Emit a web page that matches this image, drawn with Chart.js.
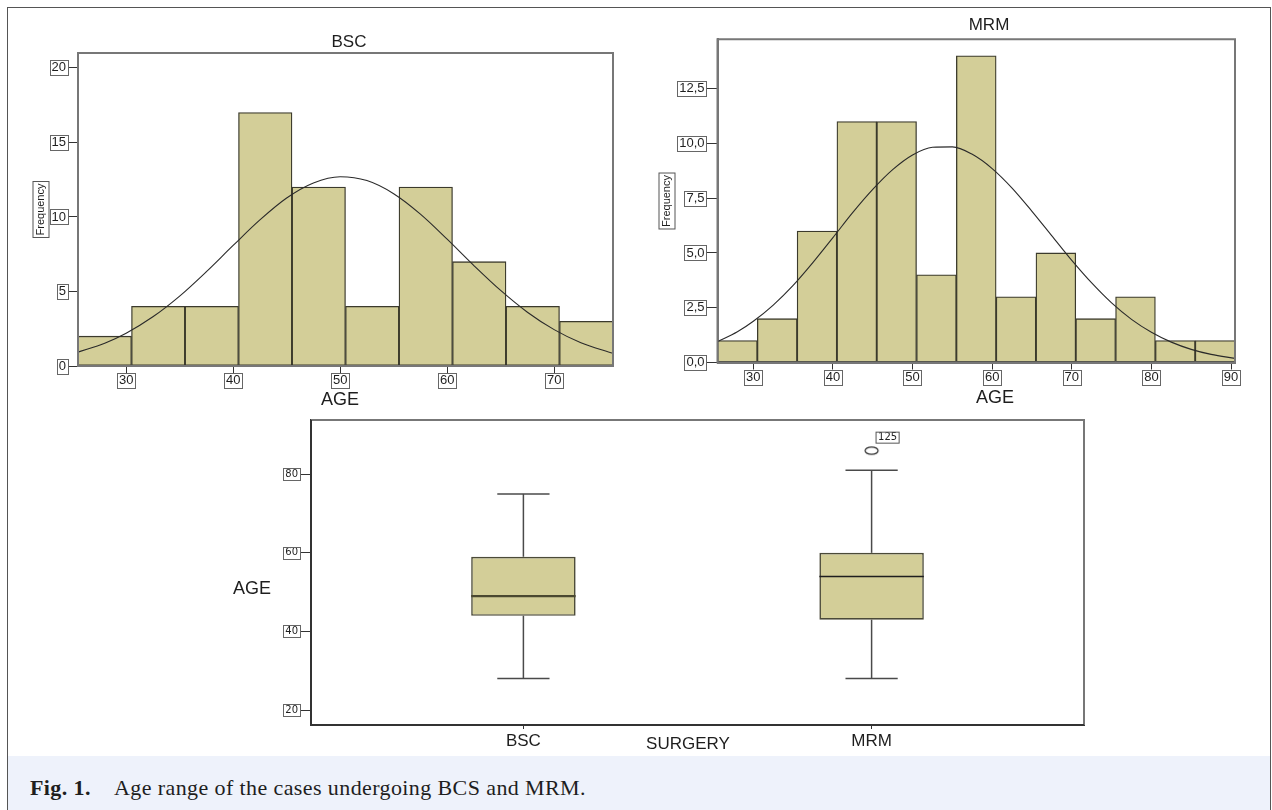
<!DOCTYPE html>
<html><head><meta charset="utf-8">
<script src="https://cdn.jsdelivr.net/npm/chart.js@4/dist/chart.umd.min.js"></script>
<style>
html,body{margin:0;padding:0;background:#fff;width:1272px;height:810px;overflow:hidden;position:relative}
#caption{position:absolute;left:8px;top:756px;width:1262px;height:60px;background:#eef2fb}
#frame{position:absolute;left:7px;top:7px;width:1264px;height:840px;border:1.5px solid #555;box-sizing:border-box}
.cap{position:absolute;top:777px;font-family:'Liberation Serif','DejaVu Serif',serif;font-size:22px;line-height:22px;color:#1e1e1e;white-space:nowrap;letter-spacing:0.4px}
.holder{position:absolute}
</style></head><body>
<div id="caption"></div>
<div id="frame"></div>
<div class="cap" style="left:30px;font-weight:bold">Fig. 1.</div>
<div class="cap" style="left:114px">Age range of the cases undergoing BCS and MRM.</div>
<div class="holder" style="left:0;top:0;width:640px;height:420px"><canvas id="c1"></canvas></div>
<div class="holder" style="left:640px;top:0;width:632px;height:420px"><canvas id="c2"></canvas></div>
<div class="holder" style="left:220px;top:405px;width:900px;height:350px"><canvas id="c3"></canvas></div>
<script>
// ---------- data ----------
const bscBinCenters = [28, 33, 38, 43, 48, 53, 58, 63, 68, 73];
const bscCounts     = [2, 4, 4, 17, 12, 4, 12, 7, 4, 3];
const bscCurveAge   = [25.5, 28, 30, 32.5, 35, 37.5, 40, 42.5, 45, 47.5, 50, 52.5, 55, 57.5, 60, 62.5, 65, 67.5, 70, 72.5, 75.5];
const bscCurveFreq  = [0.93, 1.53, 2.2, 3.3, 4.69, 6.33, 8.09, 9.8, 11.27, 12.28, 12.7, 12.44, 11.56, 10.19, 8.51, 6.74, 5.07, 3.61, 2.44, 1.56, 0.85];
const bscFreqTicks  = [0, 5, 10, 15, 20];
const bscFreqLabels = ['0', '5', '10', '15', '20'];
const bscAgeTicks   = [30, 40, 50, 60, 70];

const mrmBinCenters = [28, 33, 38, 43, 48, 53, 58, 63, 68, 73, 78, 83, 88];
const mrmCounts     = [1, 2, 6, 11, 11, 4, 14, 3, 5, 2, 3, 1, 1];
const mrmCurveAge   = [25.5, 28, 30, 32.5, 35, 37.5, 40, 42.5, 45, 47.5, 50, 52.5, 55, 57.5, 60, 62.5, 65, 67.5, 70, 72.5, 75, 77.5, 80, 82.5, 85, 87.5, 90.5];
const mrmCurveFreq  = [0.95, 1.4, 1.88, 2.62, 3.52, 4.57, 5.7, 6.85, 7.9, 8.8, 9.47, 9.82, 9.84, 9.5, 8.85, 7.96, 6.9, 5.78, 4.66, 3.63, 2.72, 1.97, 1.38, 0.93, 0.6, 0.37, 0.19];
const mrmFreqTicks  = [0, 2.5, 5, 7.5, 10, 12.5];
const mrmFreqLabels = ['0,0', '2,5', '5,0', '7,5', '10,0', '12,5'];
const mrmAgeTicks   = [30, 40, 50, 60, 70, 80, 90];

const surgeryGroups = ['BSC', 'MRM'];
const whiskerLow    = [28, 28];
const quartile1     = [44, 43];
const medianAge     = [49, 54];
const quartile3     = [59, 60];
const whiskerHigh   = [75, 81];
const outlierGroup  = ['MRM'];
const outlierAge    = [86];
const outlierCase   = ['125'];
const boxAgeTicks   = [20, 40, 60, 80];

// ---------- styling ----------
const BAR_FILL = '#d3ce98';
const BAR_EDGE = '#3b3a2c';
const SANS = "'Liberation Sans', Arial, sans-serif";

// ---------- plugins ----------
const boxedTicks = {
  id: 'boxedTicks',
  afterDraw(chart, args, opts) {
    const ctx = chart.ctx;
    (opts.axes || []).forEach(id => {
      const s = chart.scales[id];
      const o = s.options;
      const font = Chart.helpers.toFont(o.ticks.font);
      const tl = o.grid.tickLength, pad = o.ticks.padding;
      ctx.save();
      ctx.font = font.string;
      ctx.strokeStyle = opts.color || '#666';
      ctx.lineWidth = 1;
      s.ticks.forEach((t, i) => {
        const lbl = String(t.label);
        const w = ctx.measureText(lbl).width;
        const h = font.size + 2;
        let x, y;
        if (s.isHorizontal()) {
          const cy = s.top + tl + pad + font.lineHeight / 2;
          x = s.getPixelForTick(i) - w / 2 - 2; y = cy - h / 2;
        } else {
          x = s.right - tl - pad - w - 2; y = s.getPixelForTick(i) - h / 2;
        }
        ctx.strokeRect(Math.round(x) + 0.5, Math.round(y) + 0.5, Math.round(w + 4), Math.round(h));
      });
      ctx.restore();
    });
  }
};

const framePlugin = {
  id: 'frame',
  afterDraw(chart, args, opts) {
    const ctx = chart.ctx, ca = chart.chartArea;
    ctx.save();
    ctx.lineWidth = opts.width || 2;
    ctx.strokeStyle = opts.color || '#777';
    ctx.beginPath();
    ctx.moveTo(ca.left, ca.top); ctx.lineTo(ca.right, ca.top); ctx.lineTo(ca.right, ca.bottom);
    if (opts.full) { ctx.lineTo(ca.left, ca.bottom); ctx.closePath(); }
    ctx.stroke();
    if (!opts.full) {
      ctx.strokeStyle = opts.axisColor || '#333';
      ctx.beginPath();
      ctx.moveTo(ca.left, ca.top); ctx.lineTo(ca.left, ca.bottom); ctx.lineTo(ca.right, ca.bottom);
      ctx.stroke();
    }
    ctx.restore();
  }
};

const textPlugin = {
  id: 'chartTexts',
  afterDraw(chart, args, opts) {
    const ctx = chart.ctx, ca = chart.chartArea;
    (opts.items || []).forEach(it => {
      let x = ca.left + it.dx, y = ca.top + it.dy;
      if (it.anchor) {
        const el = chart.getDatasetMeta(it.anchor.dataset).data[it.anchor.index];
        x = el.x + it.dx; y = el.y + it.dy;
      }
      ctx.save();
      ctx.font = it.font; ctx.fillStyle = '#1e1e1e';
      ctx.textAlign = 'center'; ctx.textBaseline = 'middle';
      ctx.translate(x, y);
      if (it.rotate) ctx.rotate(it.rotate);
      ctx.fillText(it.text, 0, 0);
      if (it.boxH) {
        const w = ctx.measureText(it.text).width;
        ctx.strokeStyle = '#555'; ctx.lineWidth = 1;
        ctx.strokeRect(-w / 2 - 2, -it.boxH / 2, w + 4, it.boxH);
      }
      ctx.restore();
    });
  }
};

Chart.register(boxedTicks, framePlugin, textPlugin);

function setTicks(values) { return s => { s.ticks = values.map(v => ({ value: v })); }; }

function histogram(id, c) {
  return new Chart(document.getElementById(id), {
    type: 'bar',
    data: {
      datasets: [
        { type: 'line', data: c.curveX.map((x, i) => ({ x, y: c.curveY[i] })), borderColor: '#2a2a2a', borderWidth: 1.1,
          pointRadius: 0, cubicInterpolationMode: 'monotone', fill: false, order: 0 },
        { type: 'bar', data: c.centers.map((x, i) => ({ x, y: c.counts[i] })), backgroundColor: BAR_FILL, borderColor: BAR_EDGE,
          borderWidth: 1.3, borderSkipped: false, barPercentage: 1, categoryPercentage: 1, order: 1 }
      ]
    },
    options: {
      responsive: true, maintainAspectRatio: false, animation: false, events: [],
      layout: { padding: c.padding },
      plugins: {
        legend: { display: false }, tooltip: { enabled: false },
        boxedTicks: { axes: ['x', 'y'], color: '#666' },
        frame: { full: true, color: '#777', width: 2 },
        chartTexts: { items: [
          { text: c.title, dx: c.titlePos[0], dy: c.titlePos[1], font: '17px ' + SANS },
          { text: 'AGE', dx: c.agePos[0], dy: c.agePos[1], font: '18px ' + SANS },
          { text: 'Frequency', dx: c.freqPos[0], dy: c.freqPos[1], font: '11px ' + SANS, rotate: -Math.PI / 2, boxH: 16 }
        ] }
      },
      scales: {
        x: { type: 'linear', min: c.xMin, max: c.xMax, offset: false,
          afterBuildTicks: setTicks(c.xTicks), afterFit: s => { s.height = c.xH; },
          ticks: { autoSkip: false, maxRotation: 0, padding: 0, color: '#1e1e1e', font: { family: SANS, size: 13 },
            callback: (v, i) => String(c.xTicks[i]) },
          grid: { display: true, drawOnChartArea: false, drawTicks: true, tickLength: 7, color: '#333', offset: false },
          border: { display: true, color: '#777', width: 2 } },
        y: { type: 'linear', min: 0, max: c.yMax,
          afterBuildTicks: setTicks(c.yTicks), afterFit: s => { s.width = c.yW; },
          ticks: { autoSkip: false, padding: 2, color: '#1e1e1e', font: { family: SANS, size: 13 },
            callback: (v, i) => c.yLabels[i] },
          grid: { display: true, drawOnChartArea: false, drawTicks: true, tickLength: c.yTL, color: '#333' },
          border: { display: true, color: '#777', width: 2 } }
      }
    }
  });
}

histogram('c1', {
  centers: bscBinCenters, counts: bscCounts, curveX: bscCurveAge, curveY: bscCurveFreq,
  xMin: 25.5, xMax: 75.5, yMax: 21, xTicks: bscAgeTicks, yTicks: bscFreqTicks, yLabels: bscFreqLabels,
  padding: { left: 20, top: 53, right: 27, bottom: 0 }, yW: 58, xH: 54, yTL: 10,
  title: 'BSC', titlePos: [271, -10.5], agePos: [262, 347], freqPos: [-37, 156.5]
});

histogram('c2', {
  centers: mrmBinCenters, counts: mrmCounts, curveX: mrmCurveAge, curveY: mrmCurveFreq,
  xMin: 25.5, xMax: 90.5, yMax: 14.75, xTicks: mrmAgeTicks, yTicks: mrmFreqTicks, yLabels: mrmFreqLabels,
  padding: { left: 20, top: 39.3, right: 37, bottom: 0 }, yW: 57.5, xH: 57.5, yTL: 11,
  title: 'MRM', titlePos: [271.5, -14.3], agePos: [277.5, 359.2], freqPos: [-50.5, 161.7]
});

// ---------- box plot ----------
function ellipseMarker() {
  const cv = document.createElement('canvas');
  cv.width = 17; cv.height = 11;
  const g = cv.getContext('2d');
  g.strokeStyle = '#2e2e2e'; g.lineWidth = 1.2;
  g.beginPath(); g.ellipse(8.5, 5.5, 6.5, 3.7, 0, 0, Math.PI * 2); g.stroke();
  return cv;
}

const groupPos = surgeryGroups.map((g, i) => i + 1);
const BOX_HALF = 0.15, CAP_HALF = 0.075;
const boxDatasets = [];
boxDatasets.push({
  type: 'bar', data: groupPos.map((x, i) => ({ x, y: [quartile1[i], quartile3[i]] })),
  backgroundColor: BAR_FILL, borderColor: '#4b4a38', borderWidth: 1.6, borderSkipped: false,
  barPercentage: 0.3, categoryPercentage: 1, order: 2
});
const seg = (pts, color, width, order) => ({
  type: 'line', data: pts, borderColor: color, borderWidth: width, pointRadius: 0, fill: false, order
});
groupPos.forEach((x, i) => {
  boxDatasets.push(seg([{ x, y: quartile3[i] }, { x, y: whiskerHigh[i] }], '#4a4a4a', 1.5, 3));
  boxDatasets.push(seg([{ x, y: whiskerLow[i] }, { x, y: quartile1[i] }], '#4a4a4a', 1.5, 3));
  boxDatasets.push(seg([{ x: x - CAP_HALF, y: whiskerHigh[i] }, { x: x + CAP_HALF, y: whiskerHigh[i] }], '#4a4a4a', 1.5, 3));
  boxDatasets.push(seg([{ x: x - CAP_HALF, y: whiskerLow[i] }, { x: x + CAP_HALF, y: whiskerLow[i] }], '#4a4a4a', 1.5, 3));
  boxDatasets.push(seg([{ x: x - BOX_HALF, y: medianAge[i] }, { x: x + BOX_HALF, y: medianAge[i] }], i === 0 ? '#4a4830' : '#1e1e1e', i === 0 ? 2.4 : 1.5, 0));
});
const outlierIndex = boxDatasets.length;
boxDatasets.push({
  type: 'line', showLine: false, data: outlierAge.map((a, i) => ({ x: surgeryGroups.indexOf(outlierGroup[i]) + 1, y: a })),
  pointStyle: ellipseMarker(), pointRadius: 6, order: 0
});

const boxTexts = [
  { text: 'SURGERY', dx: 377, dy: 324, font: '17px ' + SANS },
  { text: 'AGE', dx: -59, dy: 169, font: '18px ' + SANS }
];
outlierCase.forEach((id, i) => boxTexts.push({ text: id, dx: 16, dy: -13, font: '10px "DejaVu Sans", sans-serif', boxH: 11, anchor: { dataset: outlierIndex, index: i } }));

new Chart(document.getElementById('c3'), {
  type: 'bar',
  data: { datasets: boxDatasets },
  options: {
    responsive: true, maintainAspectRatio: false, animation: false, events: [],
    layout: { padding: { left: 30, top: 15, right: 36, bottom: 0 } },
    plugins: {
      legend: { display: false }, tooltip: { enabled: false },
      boxedTicks: { axes: ['y'], color: '#666' },
      frame: { full: false, color: '#777', axisColor: '#333', width: 2 },
      chartTexts: { items: boxTexts }
    },
    scales: {
      x: { type: 'linear', min: 0.39, max: 2.61, offset: false,
        afterBuildTicks: setTicks(groupPos), afterFit: s => { s.height = 30; },
        ticks: { autoSkip: false, maxRotation: 0, padding: 2, color: '#1e1e1e', font: { family: SANS, size: 17 },
          callback: (v, i) => surgeryGroups[i] },
        grid: { display: true, drawOnChartArea: false, drawTicks: true, tickLength: 4, color: '#333', offset: false },
        border: { display: true, color: '#333', width: 2 } },
      y: { type: 'linear', min: 16.2, max: 93.8,
        afterBuildTicks: setTicks(boxAgeTicks), afterFit: s => { s.width = 61; },
        ticks: { autoSkip: false, padding: 3, color: '#1e1e1e', font: { family: '"DejaVu Sans", sans-serif', size: 10 },
          callback: (v, i) => String(boxAgeTicks[i]) },
        grid: { display: true, drawOnChartArea: false, drawTicks: true, tickLength: 10, color: '#333' },
        border: { display: true, color: '#333', width: 2 } }
    }
  }
});
</script>
</body></html>
